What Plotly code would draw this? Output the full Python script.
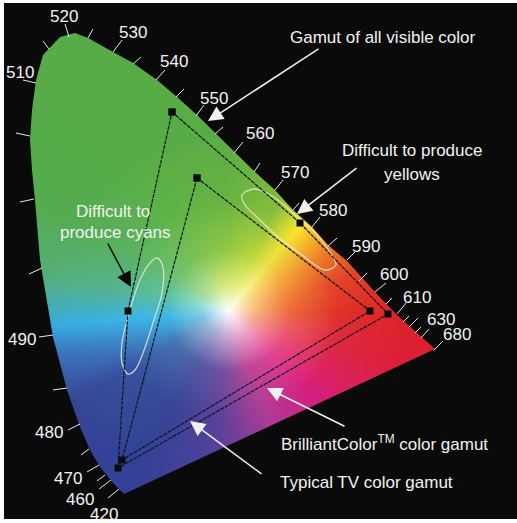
import numpy as np
import plotly.graph_objects as go

# horseshoe outline (clockwise on screen)
LOCUS_X = [75, 88, 113, 133, 157, 177, 197, 215, 235, 255, 275, 293, 312, 328, 347, 375, 397, 435,
           124, 113, 100, 90, 80, 67, 53, 47, 40, 35, 32, 30, 32, 36, 43, 60, 75]
LOCUS_Y = [33, 38, 52, 63, 80, 97, 115, 133, 153, 172, 190, 210, 227, 245, 261, 292, 315, 349,
           494, 483, 467, 450, 427, 390, 337, 303, 260, 200, 170, 140, 110, 80, 55, 37, 33]

# colour fan round the white point
WHITE_X, WHITE_Y = 228, 310
FAN_RADII = [0, 25, 60, 110, 180, 300]
FAN_ANGLES = [-175, -165, -150, -120, -95, -70, -45, -20, 0, 15, 30, 50, 65, 90, 120, 150, 170]
FAN_COLORS = [
    [(255,255,255),(140,210,232),(62,185,230),(60,180,230),(55,170,225),(55,165,220)],
    [(255,255,255),(130,200,230),(60,165,220),(60,140,205),(60,110,185),(60,100,180)],
    [(255,255,255),(150,190,220),(70,120,180),(55,85,160),(55,70,150),(55,68,150)],
    [(255,255,255),(170,170,210),(80,90,165),(55,70,150),(50,65,150),(50,60,150)],
    [(255,255,255),(200,170,215),(120,80,160),(90,65,155),(80,65,155),(80,65,155)],
    [(255,255,255),(230,170,210),(190,70,150),(175,60,150),(155,60,155),(155,60,155)],
    [(255,255,255),(245,170,200),(225,70,150),(215,30,125),(205,35,130),(205,35,130)],
    [(255,255,255),(248,170,150),(235,90,110),(222,40,70),(220,30,60),(220,30,60)],
    [(255,255,255),(250,190,130),(238,110,60),(225,50,40),(220,35,40),(220,35,40)],
    [(255,255,255),(250,200,130),(240,135,55),(228,70,40),(222,45,38),(222,45,38)],
    [(255,255,255),(250,215,130),(245,170,60),(238,120,40),(235,90,35),(235,90,35)],
    [(255,255,255),(250,245,150),(235,225,70),(250,230,40),(250,225,30),(250,225,30)],
    [(255,255,255),(235,240,130),(190,215,60),(135,190,60),(110,180,60),(100,176,62)],
    [(255,255,255),(220,235,120),(150,200,70),(105,180,65),(90,172,70),(88,172,70)],
    [(255,255,255),(200,230,140),(125,195,85),(95,180,70),(88,172,70),(88,172,72)],
    [(255,255,255),(170,225,170),(110,195,120),(90,178,100),(85,172,80),(85,172,72)],
    [(255,255,255),(150,225,215),(90,195,175),(85,180,150),(85,175,125),(85,172,110)],
]

# wavelength labels
WL_TEXT = ["520", "530", "540", "550", "560", "570", "580", "590", "600", "610", "630", "680",
           "510", "490", "480", "470", "460", "420"]
WL_X = [64, 133, 174, 214, 260, 295, 333, 366, 394, 417, 441, 457, 20, 22, 49, 68, 80, 104]
WL_Y = [16, 32, 61, 98, 133, 172, 210, 246, 274, 297, 319, 334, 72, 339, 432, 478, 499, 514]

# tick marks (outer end, locus end)
TICK_X0 = [65, 93, 122, 141, 165, 184, 204, 223, 243, 260, 23, 43, 16, 20, 29, 39, 53, 68, 81, 87, 97, 99, 108,
           283, 299, 320, 337, 355, 367, 386, 392, 406, 409, 418, 421, 429, 443]
TICK_Y0 = [24, 29, 40, 57, 70, 89, 105, 127, 142, 163, 80, 41, 133, 202, 274, 337, 390, 430, 455, 472, 481, 489, 498,
           180, 203, 217, 238, 252, 273, 283, 298, 303, 316, 318, 327, 329, 341]
TICK_X1 = [69, 88, 113, 133, 156, 176, 196, 215, 234, 254, 36, 49, 30, 34, 42, 53, 67, 80, 89, 99, 105, 111, 119,
           275, 293, 312, 328, 347, 359, 375, 386, 397, 403, 409, 415, 421, 434]
TICK_Y1 = [37, 38, 52, 64, 80, 97, 116, 134, 153, 172, 83, 49, 136, 199, 268, 335, 388, 424, 449, 465, 475, 480, 489,
           190, 210, 227, 246, 260, 281, 292, 304, 314, 322, 327, 333, 338, 350]

# gamuts
BRILLIANT_X = [172, 300, 388, 118, 128, 172]
BRILLIANT_Y = [112, 223, 314, 468, 311, 112]
TV_X = [197, 370, 122, 197]
TV_Y = [178, 311, 460, 178]

# "difficult" ellipses
CYAN_ELL_X = [128, 122, 122, 128, 140, 150, 157, 163, 162, 153, 143, 135, 128]
CYAN_ELL_Y = [374, 363, 343, 317, 280, 263, 258, 267, 293, 323, 353, 370, 374]
YEL_ELL_X = [242, 255, 275, 295, 315, 333, 336, 325, 302, 278, 258, 245, 242]
YEL_ELL_Y = [195, 189, 198, 215, 233, 257, 265, 270, 255, 237, 218, 205, 195]

# arrows: tail -> tip
ARROW_TAIL_X = [320, 358, 346, 263, 107]
ARROW_TAIL_Y = [48, 167, 427, 475, 242]
ARROW_TIP_X = [208, 297, 267, 190, 131]
ARROW_TIP_Y = [121, 214, 388, 421, 287]
ARROW_COL = ["#f0f0f0", "#f0f0f0", "#f0f0f0", "#f0f0f0", "#0a0a0a"]

CAPTIONS = ["Gamut of all visible color", "Difficult to produce", "yellows", "Difficult to", "produce cyans"]
CAPTION_X = [383, 412, 412, 113, 115]
CAPTION_Y = [37, 150, 174, 211, 232]
LEFT_CAPTIONS = ["BrilliantColor<sup>TM</sup> color gamut", "Typical TV color gamut"]
LEFT_CAPTION_X = [279, 278]
LEFT_CAPTION_Y = [443, 482]

W, H = 517, 523
FONT = "Liberation Sans"
LIGHT = "#f2f2f2"

# colour image: bilinear look-up in (angle, radius) of the colour fan
yy, xx = np.mgrid[0:H, 0:W]
dx = xx - WHITE_X
dy = WHITE_Y - yy
ang = np.degrees(np.arctan2(dy, dx))
rad = np.hypot(dx, dy)
cols = np.array(FAN_COLORS, dtype=float)
angs = np.array(FAN_ANGLES + [FAN_ANGLES[0] + 360], dtype=float)
cols = np.concatenate([cols, cols[:1]], axis=0)
ang2 = np.where(ang < angs[0], ang + 360, ang)
ia = np.clip(np.searchsorted(angs, ang2, side="right") - 1, 0, len(angs) - 2)
ta = (ang2 - angs[ia]) / (angs[ia + 1] - angs[ia])
radii = np.array(FAN_RADII, dtype=float)
ir = np.clip(np.searchsorted(radii, rad, side="right") - 1, 0, len(radii) - 2)
tr = np.clip((rad - radii[ir]) / (radii[ir + 1] - radii[ir]), 0, 1)
c = (cols[ia, ir] * ((1 - ta) * (1 - tr))[..., None] + cols[ia + 1, ir] * (ta * (1 - tr))[..., None]
     + cols[ia, ir + 1] * ((1 - ta) * tr)[..., None] + cols[ia + 1, ir + 1] * (ta * tr)[..., None])
img = np.clip(c, 0, 255).astype(np.uint8)
# white paper round the black photo frame
img[:3, :] = 255
img[519:, :] = 255
img[:, :4] = 255

fig = go.Figure()
fig.add_trace(go.Image(z=img, x0=0.5, y0=0.5, dx=1, dy=1, hoverinfo="skip"))

# black frame with the horseshoe cut out
frame_x = [4, 4, W, W, 4, None] + LOCUS_X
frame_y = [3, 519, 519, 3, 3, None] + LOCUS_Y
fig.add_trace(go.Scatter(x=frame_x, y=frame_y, mode="lines", fill="toself", fillcolor="#0a0a0a",
                         line=dict(width=0), hoverinfo="skip"))

# ticks
tx, ty = [], []
for a, b, c1, d in zip(TICK_X0, TICK_Y0, TICK_X1, TICK_Y1):
    tx += [a, c1, None]
    ty += [b, d, None]
fig.add_trace(go.Scatter(x=tx, y=ty, mode="lines", line=dict(color="#e8e8e8", width=1), hoverinfo="skip"))

# ellipses
for ex, ey in ((CYAN_ELL_X, CYAN_ELL_Y), (YEL_ELL_X, YEL_ELL_Y)):
    fig.add_trace(go.Scatter(x=ex, y=ey, mode="lines", line=dict(color="rgba(235,235,215,0.8)", width=1.3, shape="spline"),
                             hoverinfo="skip"))

# gamuts
for gx, gy in ((BRILLIANT_X, BRILLIANT_Y), (TV_X, TV_Y)):
    fig.add_trace(go.Scatter(x=gx, y=gy, mode="lines+markers",
                             line=dict(color="#10141c", width=1.2, dash="4px,1px"),
                             marker=dict(symbol="square", size=7, color="#0a0a0a"), hoverinfo="skip"))

anns = []
for t, x, y in zip(WL_TEXT, WL_X, WL_Y):
    anns.append(dict(x=x, y=y, text=t, showarrow=False, xanchor="center", yanchor="middle",
                     font=dict(family=FONT, size=17, color=LIGHT)))
for t, x, y in zip(CAPTIONS, CAPTION_X, CAPTION_Y):
    anns.append(dict(x=x, y=y, text=t, showarrow=False, xanchor="center", yanchor="middle",
                     font=dict(family=FONT, size=17, color=LIGHT)))
for t, x, y in zip(LEFT_CAPTIONS, LEFT_CAPTION_X, LEFT_CAPTION_Y):
    anns.append(dict(x=x, y=y, text=t, showarrow=False, xanchor="left", yanchor="middle",
                     font=dict(family=FONT, size=17, color=LIGHT)))
for x0, y0, x1, y1, col in zip(ARROW_TAIL_X, ARROW_TAIL_Y, ARROW_TIP_X, ARROW_TIP_Y, ARROW_COL):
    anns.append(dict(x=x1, y=y1, ax=x0, ay=y0, axref="x", ayref="y", xref="x", yref="y", text="",
                     showarrow=True, arrowhead=2, arrowsize=2, arrowwidth=1.5, arrowcolor=col))

fig.update_layout(
    width=W, height=H, margin=dict(l=0, r=0, t=0, b=0), paper_bgcolor="white", plot_bgcolor="white",
    showlegend=False, annotations=anns,
    xaxis=dict(range=[0, W], visible=False, fixedrange=True),
    yaxis=dict(range=[H, 0], visible=False, fixedrange=True),
)
fig.write_html("out.html", config=dict(displayModeBar=False),
               post_script="document.body.style.margin='0';document.body.style.overflow='hidden';")
